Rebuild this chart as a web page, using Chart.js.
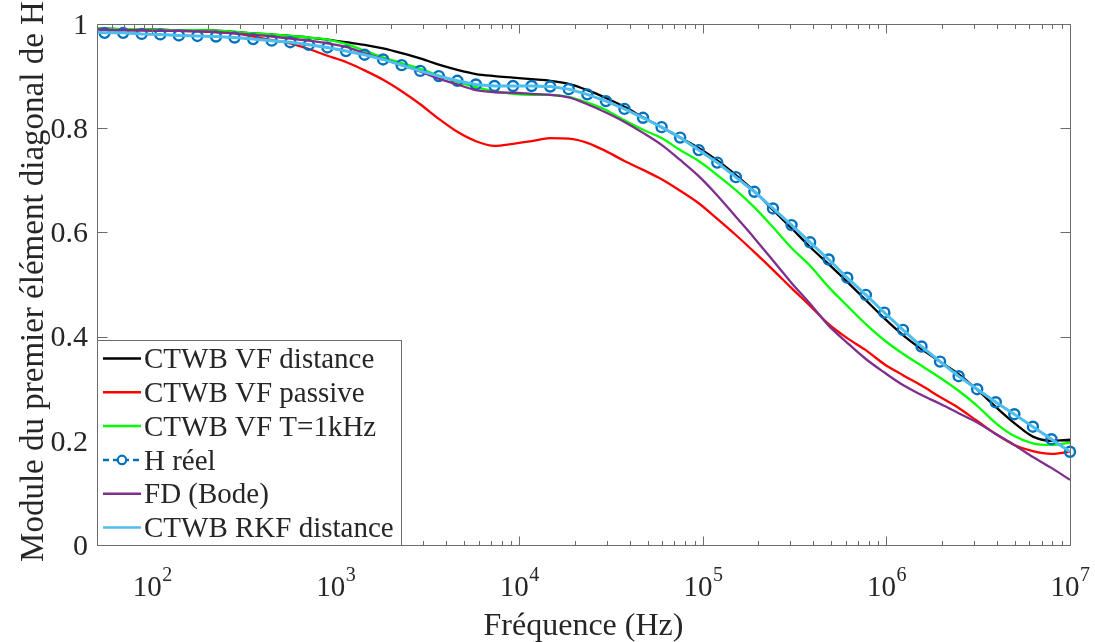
<!DOCTYPE html>
<html>
<head>
<meta charset="utf-8">
<script src="https://cdn.jsdelivr.net/npm/chart.js@4.4.1/dist/chart.umd.min.js"></script>
<style>
html,body{margin:0;padding:0;background:#fff;}
#wrap{width:1095px;height:642px;}
</style>
</head>
<body>
<div id="wrap"><canvas id="c" width="1095" height="642"></canvas></div>
<script>
// ---------------- DATA ----------------
// Frequencies (Hz) of the "H réel" samples
const freqMarkers = [55, 69.4, 87.6, 110.6, 139.6, 176.2, 222.5, 280.8, 354.5, 447.5, 564.8, 712.9, 900,
  1136, 1434, 1810, 2285, 2884, 3640, 4595, 5800, 7321, 9241, 11665, 14724, 18585, 23460, 29612, 37378,
  47182, 59555, 75174, 94891, 119776, 151188, 190838, 240888, 304063, 383804, 484458, 611509, 771883,
  974316, 1229838, 1552382, 1959489, 2473364, 3121983, 3940795, 4974289, 6278742, 7925323, 10000000];
// Frequencies (Hz) of the fitted curves (start at 50 Hz, then same grid)
const freqLines = [50, 55, 69.4, 87.6, 110.6, 139.6, 176.2, 222.5, 280.8, 354.5, 447.5, 564.8, 712.9, 900,
  1136, 1434, 1810, 2285, 2884, 3640, 4595, 5800, 7321, 9241, 11665, 14724, 18585, 23460, 29612, 37378,
  47182, 59555, 75174, 94891, 119776, 151188, 190838, 240888, 304063, 383804, 484458, 611509, 771883,
  974316, 1229838, 1552382, 1959489, 2473364, 3121983, 3940795, 4974289, 6278742, 7925323, 10000000];

const vfDistance = [0.991, 0.991, 0.990, 0.990, 0.989, 0.988, 0.988, 0.987, 0.985, 0.982, 0.980, 0.977, 0.974,
  0.970, 0.965, 0.960, 0.953, 0.944, 0.934, 0.922, 0.912, 0.904, 0.900, 0.897, 0.894, 0.891, 0.885, 0.873,
  0.858, 0.841, 0.821, 0.802, 0.782, 0.762, 0.738, 0.710, 0.679, 0.643, 0.608, 0.572, 0.539, 0.505, 0.470,
  0.435, 0.403, 0.376, 0.352, 0.328, 0.298, 0.265, 0.234, 0.208, 0.200, 0.202];

const vfPassive = [0.990, 0.989, 0.988, 0.988, 0.987, 0.987, 0.986, 0.984, 0.982, 0.976, 0.969, 0.963, 0.952,
  0.939, 0.927, 0.911, 0.893, 0.871, 0.846, 0.818, 0.793, 0.775, 0.766, 0.770, 0.775, 0.781, 0.780, 0.772,
  0.756, 0.737, 0.720, 0.702, 0.680, 0.656, 0.626, 0.595, 0.562, 0.528, 0.493, 0.459, 0.424, 0.397, 0.374,
  0.347, 0.326, 0.306, 0.284, 0.263, 0.238, 0.213, 0.192, 0.180, 0.175, 0.179];

const vfT1k = [0.991, 0.991, 0.990, 0.990, 0.989, 0.988, 0.988, 0.987, 0.985, 0.982, 0.980, 0.977, 0.974,
  0.970, 0.962, 0.949, 0.936, 0.925, 0.914, 0.901, 0.889, 0.879, 0.871, 0.866, 0.864, 0.864, 0.860, 0.849,
  0.835, 0.815, 0.797, 0.781, 0.758, 0.737, 0.710, 0.681, 0.648, 0.610, 0.570, 0.536, 0.495, 0.459, 0.424,
  0.393, 0.367, 0.344, 0.321, 0.296, 0.267, 0.234, 0.209, 0.195, 0.192, 0.196];

const hReel = [0.983, 0.983, 0.981, 0.980, 0.978, 0.977, 0.976, 0.974, 0.971, 0.968, 0.965, 0.960, 0.955,
  0.948, 0.941, 0.932, 0.921, 0.910, 0.900, 0.891, 0.884, 0.881, 0.881, 0.881, 0.880, 0.875, 0.865, 0.852,
  0.837, 0.820, 0.802, 0.782, 0.758, 0.734, 0.706, 0.678, 0.646, 0.614, 0.581, 0.548, 0.513, 0.480, 0.446,
  0.413, 0.381, 0.352, 0.324, 0.299, 0.274, 0.251, 0.227, 0.203, 0.179];

const fdBode = [0.990, 0.989, 0.988, 0.988, 0.987, 0.987, 0.986, 0.985, 0.982, 0.979, 0.976, 0.972, 0.968,
  0.963, 0.956, 0.944, 0.933, 0.921, 0.909, 0.895, 0.884, 0.873, 0.869, 0.868, 0.866, 0.864, 0.859, 0.846,
  0.830, 0.812, 0.791, 0.768, 0.739, 0.708, 0.671, 0.630, 0.589, 0.546, 0.503, 0.463, 0.421, 0.388, 0.357,
  0.331, 0.307, 0.288, 0.271, 0.253, 0.235, 0.213, 0.192, 0.169, 0.148, 0.125];

const rkfDistance = [0.984, 0.983, 0.983, 0.981, 0.980, 0.978, 0.977, 0.976, 0.974, 0.971, 0.968, 0.965, 0.960,
  0.955, 0.948, 0.941, 0.932, 0.921, 0.910, 0.900, 0.891, 0.884, 0.881, 0.881, 0.881, 0.880, 0.875, 0.865,
  0.852, 0.837, 0.820, 0.802, 0.782, 0.758, 0.734, 0.706, 0.678, 0.646, 0.614, 0.581, 0.548, 0.513, 0.480,
  0.446, 0.413, 0.381, 0.352, 0.324, 0.299, 0.274, 0.251, 0.227, 0.203, 0.179];

const seriesLabels = ['CTWB VF distance', 'CTWB VF passive', 'CTWB VF T=1kHz', 'H réel', 'FD (Bode)', 'CTWB RKF distance'];
const xMajorTicks = [100, 1000, 10000, 100000, 1000000, 10000000];
const xTickExponents = ['2', '3', '4', '5', '6', '7'];
const yTicks = [0, 0.2, 0.4, 0.6, 0.8, 1];
const yTickLabels = ['0', '0.2', '0.4', '0.6', '0.8', '1'];
const xTitle = 'Fréquence (Hz)';
const yTitle = 'Module du premier élément diagonal de H';

// ---------------- STYLE ----------------
const COLORS = ['#000000', '#ff0000', '#00ff00', '#0072bd', '#7e2f8e', '#4dbeee'];
const FONT = "'Liberation Serif','Times New Roman',serif";
const AXIS_COLOR = '#6b6b6b';
const TEXT_COLOR = '#262626';

function pts(xs, ys) { return ys.map((v, i) => ({ x: xs[i], y: v })); }

const datasets = [
  { label: seriesLabels[0], data: pts(freqLines, vfDistance), borderColor: COLORS[0], borderWidth: 2.3,
    pointRadius: 0, cubicInterpolationMode: 'monotone', order: 6 },
  { label: seriesLabels[1], data: pts(freqLines, vfPassive), borderColor: COLORS[1], borderWidth: 2.3,
    pointRadius: 0, cubicInterpolationMode: 'monotone', order: 5 },
  { label: seriesLabels[2], data: pts(freqLines, vfT1k), borderColor: COLORS[2], borderWidth: 2.3,
    pointRadius: 0, cubicInterpolationMode: 'monotone', order: 4 },
  { label: seriesLabels[3], data: pts(freqMarkers, hReel), borderColor: COLORS[3], borderWidth: 2,
    borderDash: [6, 4], pointRadius: 5, pointBorderWidth: 2.4, pointBorderColor: COLORS[3],
    pointBackgroundColor: 'rgba(0,0,0,0)', pointStyle: 'circle', tension: 0, order: 3, clip: false },
  { label: seriesLabels[4], data: pts(freqLines, fdBode), borderColor: COLORS[4], borderWidth: 2.3,
    pointRadius: 0, cubicInterpolationMode: 'monotone', order: 2 },
  { label: seriesLabels[5], data: pts(freqLines, rkfDistance), borderColor: COLORS[5], borderWidth: 3,
    pointRadius: 0, tension: 0, order: 1 }
];

const matlabAxes = {
  id: 'matlabAxes',
  afterDraw(chart) {
    const ctx = chart.ctx, a = chart.chartArea;
    const xs = chart.scales.x, ys = chart.scales.y;
    const L = Math.round(a.left) + 0.5, R = Math.round(a.right) + 0.5;
    const T = Math.round(a.top) + 0.5, B = Math.round(a.bottom) + 0.5;
    ctx.save();
    ctx.strokeStyle = AXIS_COLOR;
    ctx.lineWidth = 1;
    ctx.beginPath();
    ctx.rect(L, T, R - L, B - T);
    // x major ticks
    xMajorTicks.forEach(v => {
      const px = Math.round(xs.getPixelForValue(v)) + 0.5;
      ctx.moveTo(px, B); ctx.lineTo(px, B - 9);
      ctx.moveTo(px, T); ctx.lineTo(px, T + 9);
    });
    // x minor ticks
    for (let d = 1; d <= 6; d++) {
      for (let m = 2; m <= 9; m++) {
        const v = m * Math.pow(10, d);
        if (v < xs.min || v > xs.max) continue;
        const px = Math.round(xs.getPixelForValue(v)) + 0.5;
        ctx.moveTo(px, B); ctx.lineTo(px, B - 4.5);
        ctx.moveTo(px, T); ctx.lineTo(px, T + 4.5);
      }
    }
    // y ticks
    yTicks.forEach(v => {
      const py = Math.round(ys.getPixelForValue(v)) + 0.5;
      ctx.moveTo(L, py); ctx.lineTo(L + 10, py);
      ctx.moveTo(R, py); ctx.lineTo(R - 10, py);
    });
    ctx.stroke();

    // y tick labels
    ctx.fillStyle = TEXT_COLOR;
    ctx.font = '30px ' + FONT;
    ctx.textAlign = 'right';
    ctx.textBaseline = 'middle';
    yTicks.forEach((v, i) => {
      const py = ys.getPixelForValue(v);
      ctx.fillText(yTickLabels[i], a.left - 9, py + 2);
    });

    // x tick labels 10^n
    ctx.textBaseline = 'alphabetic';
    ctx.textAlign = 'left';
    xMajorTicks.forEach((v, i) => {
      const px = xs.getPixelForValue(v);
      ctx.font = '29px ' + FONT;
      const w1 = ctx.measureText('10').width;
      ctx.font = '20px ' + FONT;
      const w2 = ctx.measureText(xTickExponents[i]).width;
      const x0 = px - (w1 + w2) / 2;
      ctx.font = '29px ' + FONT;
      ctx.fillText('10', x0, 596);
      ctx.font = '20px ' + FONT;
      ctx.fillText(xTickExponents[i], x0 + w1 + 0.5, 581);
    });

    // axis titles
    ctx.font = '32px ' + FONT;
    ctx.textAlign = 'center';
    ctx.textBaseline = 'alphabetic';
    ctx.fillText(xTitle, (a.left + a.right) / 2, 635);
    ctx.save();
    ctx.font = '33px ' + FONT;
    ctx.translate(43, (a.top + a.bottom) / 2 - 3);
    ctx.rotate(-Math.PI / 2);
    ctx.fillText(yTitle, 0, 0);
    ctx.restore();

    // legend
    const lx = L, ly = 340.5, lw = 304, lh = B - ly;
    ctx.fillStyle = '#ffffff';
    ctx.fillRect(lx, ly, lw, lh);
    ctx.strokeStyle = AXIS_COLOR;
    ctx.lineWidth = 1;
    ctx.strokeRect(lx, ly, lw, lh);
    const rowY0 = 358.5, rowH = 33.8;
    chart.data.datasets.forEach((ds, i) => {
      const y = rowY0 + i * rowH;
      ctx.save();
      ctx.strokeStyle = ds.borderColor;
      ctx.lineWidth = 2.5;
      if (ds.borderDash) ctx.setLineDash([6, 4]);
      ctx.beginPath();
      ctx.moveTo(103, y); ctx.lineTo(141, y);
      ctx.stroke();
      ctx.setLineDash([]);
      if (ds.pointRadius > 0) {
        ctx.fillStyle = '#ffffff';
        ctx.lineWidth = 2.2;
        ctx.beginPath();
        ctx.arc(122, y, 4.2, 0, Math.PI * 2);
        ctx.fill();
        ctx.stroke();
      }
      ctx.restore();
      ctx.fillStyle = TEXT_COLOR;
      ctx.font = '29px ' + FONT;
      ctx.textAlign = 'left';
      ctx.textBaseline = 'middle';
      ctx.fillText(ds.label, 144, y + 2);
    });
    ctx.restore();
  }
};

new Chart(document.getElementById('c'), {
  type: 'line',
  data: { datasets },
  options: {
    responsive: false,
    animation: false,
    devicePixelRatio: 1,
    parsing: true,
    layout: { padding: { left: 97, top: 24, right: 25, bottom: 97 } },
    scales: {
      x: { type: 'logarithmic', min: 50, max: 10000000, display: false },
      y: { type: 'linear', min: 0, max: 1, display: false }
    },
    plugins: { legend: { display: false }, tooltip: { enabled: false } }
  },
  plugins: [matlabAxes]
});
</script>
</body>
</html>
